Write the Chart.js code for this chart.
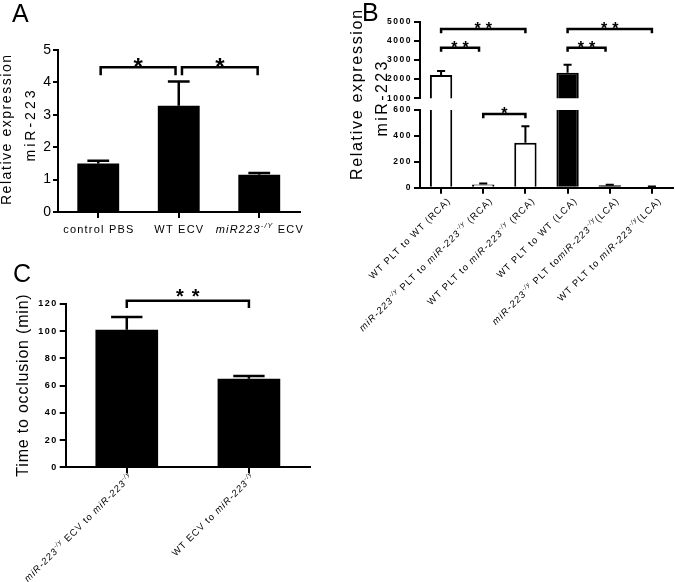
<!DOCTYPE html>
<html>
<head>
<meta charset="utf-8">
<script src="https://cdn.jsdelivr.net/npm/chart.js@4"></script>
<style>
  html, body { margin: 0; padding: 0; background: #fff; }
  #wrap { position: relative; width: 675px; height: 582px; overflow: hidden; }
  canvas { position: absolute; }
</style>
</head>
<body>
<div id="wrap">
  <canvas id="chartA" width="320" height="250" style="left:0;top:0"></canvas>
  <canvas id="chartBTop" width="335" height="340" style="left:340px;top:0"></canvas>
  <canvas id="chartBLow" width="335" height="340" style="left:340px;top:0"></canvas>
  <canvas id="chartC" width="320" height="327" style="left:0;top:255px"></canvas>
</div>
<script>
// Panel A - relative expression of miR-223
const aCategories = ['control PBS', 'WT ECV', 'miR223-/Y ECV'];
const aValues = [1.5, 3.28, 1.15];
const aErrors = [0.08, 0.75, 0.05];
const aTicks = [0, 1, 2, 3, 4, 5];

// Panel B - relative expression, broken axis
const bCategories = [
  'WT PLT to WT (RCA)',
  'miR-223-/y PLT to miR-223-/y (RCA)',
  'WT PLT to miR-223-/y (RCA)',
  'WT PLT to WT (LCA)',
  'miR-223-/y PLT tomiR-223-/y(LCA)',
  'WT PLT to miR-223-/y(LCA)'
];
const bValues = [2220, 25, 347, 2330, 18, 8];
const bErrors = [200, 7, 127, 420, 4, 2];
const bTicksUpper = [1000, 2000, 3000, 4000, 5000];
const bTicksLower = [0, 200, 400, 600];

// Panel C - time to occlusion
const cCategories = ['miR-223-/y ECV to miR-223-/y', 'WT ECV to miR-223-/y'];
const cValues = [101, 65];
const cErrors = [9.5, 2];
const cTicks = [0, 20, 40, 60, 80, 100, 120];

// significance brackets: category index from/to, height in axis units
const aBrackets = [
  { from: 0.03, to: 0.96, y: 4.47, drop: 0.25, text: '*' },
  { from: 1.04, to: 1.98, y: 4.47, drop: 0.25, text: '*' }
];
const bBracketsUpper = [
  { from: 0, to: 0.9, y: 3640, drop: 210, text: '**' },
  { from: 0, to: 2, y: 4620, drop: 220, text: '**' },
  { from: 3, to: 3.9, y: 3640, drop: 210, text: '**' },
  { from: 3, to: 5, y: 4620, drop: 220, text: '**' }
];
const bBracketsLower = [
  { from: 1, to: 2, y: 569, drop: 33, text: '*' }
];
const cBrackets = [
  { from: 0, to: 1, y: 122.4, drop: 5.4, text: '**' }
];

const FONT = '"Liberation Sans", Arial, Helvetica, sans-serif';

// split a label into plain / italic gene name / superscript genotype
function richSegments(label) {
  const segs = [];
  const re = /(miR-?223)(-\/[yY])/g;
  let last = 0, m;
  while ((m = re.exec(label))) {
    if (m.index > last) segs.push({ t: label.slice(last, m.index) });
    segs.push({ t: m[1], it: true });
    segs.push({ t: m[2], it: true, sup: true });
    last = re.lastIndex;
  }
  if (last < label.length) segs.push({ t: label.slice(last) });
  return segs;
}

function drawRich(ctx, label, x, y, o) {
  const segs = richSegments(label);
  const fontFor = s => [s.it ? 'italic' : '', o.weight || 'normal',
    (s.sup ? o.size * 0.65 : o.size) + 'px', FONT].join(' ').trim();
  ctx.save();
  ctx.translate(x, y);
  if (o.rotate) ctx.rotate(o.rotate);
  ctx.letterSpacing = (o.spacing || 0) + 'px';
  let w = 0;
  segs.forEach(s => { ctx.font = fontFor(s); s.w = ctx.measureText(s.t).width; w += s.w; });
  w -= (o.spacing || 0);
  let cx = o.align === 'right' ? -w : o.align === 'center' ? -w / 2 : 0;
  ctx.fillStyle = '#000';
  ctx.textAlign = 'left';
  ctx.textBaseline = 'alphabetic';
  segs.forEach(s => {
    ctx.font = fontFor(s);
    ctx.fillText(s.t, cx, o.size * 0.35 - (s.sup ? o.size * 0.45 : 0));
    cx += s.w;
  });
  ctx.restore();
}

function panelPlugin(cfg) {
  return {
    id: 'panel',
    beforeDraw(chart) {
      chart.ctx.letterSpacing = (cfg.tickSpacing || 0) + 'px';
    },
    afterDatasetsDraw(chart) {
      if (!cfg.values) return;
      const ctx = chart.ctx, ys = chart.scales.y;
      const meta = chart.getDatasetMeta(0);
      ctx.save();
      ctx.strokeStyle = '#000';
      ctx.lineWidth = cfg.errWidth || 2.5;
      cfg.values.forEach((v, i) => {
        if (v < ys.min || v > ys.max) return;
        const bar = meta.data[i];
        const top = ys.getPixelForValue(v);
        const end = ys.getPixelForValue(v + cfg.errors[i]);
        const half = bar.width * (cfg.capRatio || 0.25);
        ctx.beginPath();
        ctx.moveTo(bar.x, top);
        ctx.lineTo(bar.x, end);
        ctx.moveTo(bar.x - half, end);
        ctx.lineTo(bar.x + half, end);
        ctx.stroke();
      });
      ctx.restore();
    },
    afterDraw(chart) {
      const ctx = chart.ctx, xs = chart.scales.x, ys = chart.scales.y;
      ctx.save();
      ctx.letterSpacing = '0px';
      // brackets and stars
      (cfg.brackets || []).forEach(b => {
        const x1 = xs.getPixelForValue(b.from), x2 = xs.getPixelForValue(b.to);
        const py = ys.getPixelForValue(b.y), pd = ys.getPixelForValue(b.y - b.drop);
        ctx.strokeStyle = '#000';
        ctx.lineWidth = 2.5;
        ctx.beginPath();
        ctx.moveTo(x1, pd); ctx.lineTo(x1, py); ctx.lineTo(x2, py); ctx.lineTo(x2, pd);
        ctx.stroke();
        const st = cfg.star;
        ctx.font = 'bold ' + st.size + 'px ' + FONT;
        ctx.letterSpacing = st.spacing + 'px';
        ctx.textAlign = 'left';
        ctx.textBaseline = 'alphabetic';
        const w = ctx.measureText(b.text).width - st.spacing;
        ctx.fillStyle = '#000';
        ctx.fillText(b.text, (x1 + x2) / 2 - w / 2, py - st.gap + st.size * 0.58);
        ctx.letterSpacing = '0px';
      });
      // category labels
      if (cfg.labels) {
        const L = cfg.labels;
        L.text.forEach((t, i) => {
          const tx = xs.getPixelForTick(i);
          drawRich(ctx, t, tx + L.dx, xs.top + L.dy, L.style);
        });
      }
      // axis titles
      (cfg.titles || []).forEach(t => {
        drawRich(ctx, t.text, t.x, t.y, { size: t.size, spacing: t.spacing, align: 'center', rotate: -Math.PI / 2 });
      });
      // panel letter
      if (cfg.letter) {
        ctx.font = cfg.letter.size + 'px ' + FONT;
        ctx.fillStyle = '#000';
        ctx.textAlign = 'left';
        ctx.textBaseline = 'alphabetic';
        ctx.fillText(cfg.letter.text, cfg.letter.x, cfg.letter.y);
      }
      ctx.restore();
    }
  };
}

function axisX(height, show) {
  return {
    type: 'category',
    offset: true,
    grid: { display: show, offset: false, drawOnChartArea: false, drawTicks: true, tickLength: 6, color: '#000', lineWidth: 2 },
    border: { display: show, color: '#000', width: 2 },
    ticks: { display: false },
    afterFit(s) { s.height = height; }
  };
}

function axisY(width, min, max, tickValues, font, tickLength) {
  return {
    min: min,
    max: max,
    afterBuildTicks(s) { s.ticks = tickValues.map(v => ({ value: v })); },
    ticks: { color: '#000', font: Object.assign({ family: FONT }, font), padding: 2, callback: v => String(v) },
    grid: { drawOnChartArea: false, tickLength: tickLength, color: '#000', lineWidth: 2 },
    border: { color: '#000', width: 2 },
    afterFit(s) { s.width = width; }
  };
}

const baseOptions = {
  responsive: false,
  animation: false,
  events: [],
  plugins: { legend: { display: false }, tooltip: { enabled: false } }
};

// Panel A
new Chart(document.getElementById('chartA'), {
  type: 'bar',
  data: {
    labels: aCategories,
    datasets: [{ data: aValues, backgroundColor: '#000', borderWidth: 0, barPercentage: 0.52, categoryPercentage: 1 }]
  },
  options: Object.assign({}, baseOptions, {
    layout: { padding: { top: 50, right: 20.5, left: 0, bottom: 0 } },
    scales: {
      x: axisX(38, true),
      y: axisY(58, 0, 5, aTicks, { size: 14 }, 5)
    }
  }),
  plugins: [panelPlugin({
    values: aValues, errors: aErrors, capRatio: 0.26,
    brackets: aBrackets,
    star: { size: 24, spacing: 0, gap: 6 },
    labels: { text: aCategories, dx: 0, dy: 17, style: { size: 11, spacing: 1.2, align: 'center' } },
    titles: [
      { text: 'Relative expression', x: 6.5, y: 130, size: 14, spacing: 1.55 },
      { text: 'miR-223', x: 30, y: 126, size: 14, spacing: 3 }
    ],
    letter: { text: 'A', x: 12, y: 22, size: 25 }
  })]
});

// Panel B, upper segment (1000 - 5000)
const bColors = ['#fff', '#fff', '#fff', '#000', '#000', '#000'];
new Chart(document.getElementById('chartBTop'), {
  type: 'bar',
  data: {
    labels: bCategories,
    datasets: [{ data: bValues, backgroundColor: bColors, borderColor: '#000', borderWidth: 2,
      barPercentage: 0.53, categoryPercentage: 1, clip: 0 }]
  },
  options: Object.assign({}, baseOptions, {
    layout: { padding: { top: 21.7, right: 2, left: 0, bottom: 0 } },
    scales: {
      x: axisX(241.7, false),
      y: axisY(80, 1000, 5000, bTicksUpper, { size: 8.5, weight: 'bold' }, 6)
    }
  }),
  plugins: [panelPlugin({
    tickSpacing: 1.5,
    values: bValues, errors: bErrors, capRatio: 0.18, errWidth: 2,
    brackets: bBracketsUpper,
    star: { size: 16, spacing: 5, gap: 4.5 },
    titles: [
      { text: 'Relative expression', x: 16, y: 95, size: 16, spacing: 1.7 },
      { text: 'miR-223', x: 41, y: 99, size: 16, spacing: 2.4 }
    ],
    letter: { text: 'B', x: 22, y: 21, size: 25 }
  })]
});

// Panel B, lower segment (0 - 600)
new Chart(document.getElementById('chartBLow'), {
  type: 'bar',
  data: {
    labels: bCategories,
    datasets: [{ data: bValues, backgroundColor: bColors, borderColor: '#000', borderWidth: 2,
      barPercentage: 0.53, categoryPercentage: 1, clip: 0 }]
  },
  options: Object.assign({}, baseOptions, {
    layout: { padding: { top: 110, right: 2, left: 0, bottom: 0 } },
    scales: {
      x: axisX(152.3, true),
      y: axisY(80, 0, 600, bTicksLower, { size: 8.5, weight: 'bold' }, 6)
    }
  }),
  plugins: [panelPlugin({
    tickSpacing: 1.5,
    values: bValues, errors: bErrors, capRatio: 0.18, errWidth: 2,
    brackets: bBracketsLower,
    star: { size: 16, spacing: 5, gap: 4.5 },
    labels: { text: bCategories, dx: 7, dy: 12, style: { size: 9.5, spacing: 1.1, align: 'right', rotate: -Math.PI / 4 } }
  })]
});

// Panel C
new Chart(document.getElementById('chartC'), {
  type: 'bar',
  data: {
    labels: cCategories,
    datasets: [{ data: cValues, backgroundColor: '#000', borderWidth: 0, barPercentage: 0.513, categoryPercentage: 1 }]
  },
  options: Object.assign({}, baseOptions, {
    layout: { padding: { top: 49, right: 10, left: 0, bottom: 0 } },
    scales: {
      x: axisX(114.7, true),
      y: axisY(65.7, 0, 120, cTicks, { size: 9, weight: 'bold' }, 6)
    }
  }),
  plugins: [panelPlugin({
    tickSpacing: 1.5,
    values: cValues, errors: cErrors, capRatio: 0.25,
    brackets: cBrackets,
    star: { size: 20, spacing: 8, gap: 9.5 },
    labels: { text: cCategories, dx: 3.5, dy: 8, style: { size: 9.5, spacing: 1, align: 'right', rotate: -Math.PI / 4 } },
    titles: [
      { text: 'Time to occlusion (min)', x: 22.7, y: 130.5, size: 16, spacing: 0.8 }
    ],
    letter: { text: 'C', x: 13, y: 27, size: 25 }
  })]
});
</script>
</body>
</html>
